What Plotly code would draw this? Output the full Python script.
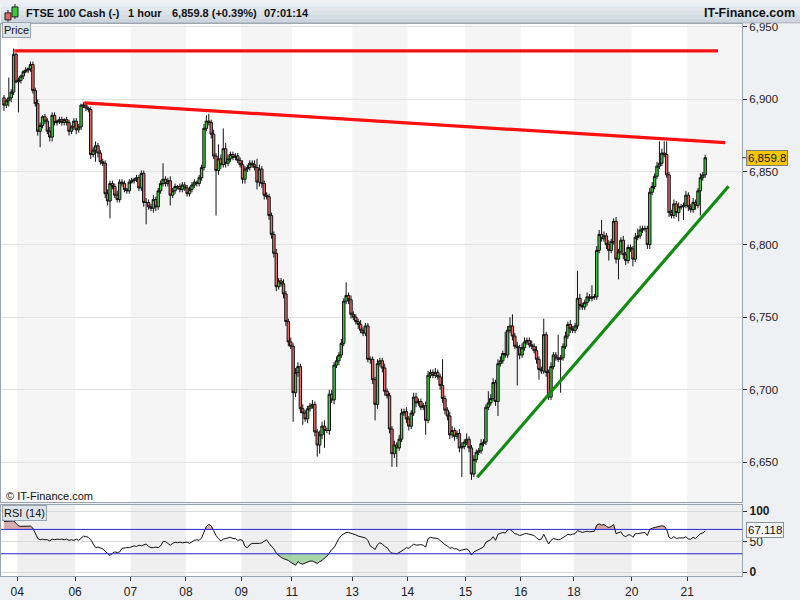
import plotly.graph_objects as go

# ---------------- data ----------------
first_open = 6901
closes = [
    6896, 6899, 6901, 6905, 6931, 6912, 6913, 6916, 6919, 6920,
    6921, 6924, 6906, 6897, 6878, 6882, 6888, 6885, 6878, 6874,
    6889, 6884, 6885, 6886, 6884, 6886, 6884, 6878, 6881, 6885,
    6879, 6881, 6896, 6896, 6894, 6893, 6862, 6865, 6868, 6863,
    6857, 6856, 6835, 6830, 6842, 6840, 6834, 6831, 6843, 6842,
    6838, 6837, 6843, 6844, 6845, 6846, 6839, 6849, 6829, 6829,
    6826, 6825, 6831, 6826, 6837, 6842, 6845, 6842, 6844, 6834,
    6837, 6840, 6840, 6838, 6841, 6839, 6835, 6838, 6841, 6843,
    6842, 6846, 6853, 6880, 6885, 6884, 6876, 6861, 6851, 6859,
    6855, 6866, 6856, 6859, 6862, 6860, 6861, 6858, 6855, 6845,
    6852, 6853, 6856, 6855, 6853, 6843, 6852, 6842, 6834, 6833,
    6820, 6807, 6794, 6771, 6775, 6773, 6766, 6747, 6733, 6730,
    6698, 6712, 6716, 6687, 6684, 6680, 6687, 6689, 6690, 6671,
    6662, 6669, 6675, 6672, 6672, 6697, 6693, 6717, 6720, 6724,
    6732, 6761, 6765, 6762, 6752, 6750, 6747, 6745, 6741, 6739,
    6744, 6721, 6721, 6707, 6690, 6718, 6720, 6715, 6699, 6696,
    6673, 6656, 6662, 6660, 6666, 6684, 6685, 6680, 6675, 6684,
    6695, 6691, 6692, 6688, 6689, 6679, 6710, 6712, 6710, 6712,
    6709, 6703, 6694, 6686, 6682, 6669, 6672, 6668, 6670, 6660,
    6661, 6664, 6666, 6660, 6642, 6652, 6657, 6658, 6663, 6664,
    6688, 6691, 6694, 6705, 6692, 6718, 6720, 6725, 6724, 6741,
    6744, 6737, 6730, 6729, 6724, 6729, 6733, 6734, 6731, 6730,
    6727, 6721, 6714, 6713, 6738, 6712, 6695, 6716, 6724, 6722,
    6721, 6722, 6730, 6737, 6745, 6742, 6741, 6744, 6763, 6758,
    6757, 6760, 6764, 6763, 6764, 6764, 6796, 6807, 6804, 6806,
    6800, 6796, 6802, 6816, 6790, 6795, 6803, 6793, 6789, 6798,
    6797, 6790, 6805, 6806, 6810, 6811, 6811, 6800, 6836, 6840,
    6847, 6854, 6856, 6863, 6862, 6848, 6822, 6820, 6828, 6822,
    6826, 6826, 6827, 6834, 6826, 6824, 6829, 6827, 6837, 6846,
    6848, 6859.8,
]
up_wick = [
    2, 1, 14, 2, 4, 1, 2, 1, 1, 2,
    1, 2, 2, 2, 3, 2, 1, 2, 2, 3,
    2, 2, 1, 2, 2, 1, 2, 2, 1, 2,
    2, 2, 1, 2, 2, 1, 2, 2, 3, 2,
    2, 2, 2, 3, 2, 2, 2, 3, 2, 2,
    2, 1, 2, 2, 1, 2, 2, 2, 2, 3,
    2, 2, 3, 2, 2, 2, 11, 2, 2, 3,
    2, 2, 1, 2, 2, 2, 2, 2, 2, 2,
    1, 2, 2, 3, 4, 5, 2, 3, 2, 10,
    3, 14, 4, 3, 2, 2, 2, 2, 2, 3,
    2, 2, 2, 2, 3, 6, 3, 2, 2, 2,
    2, 2, 2, 3, 2, 2, 3, 2, 2, 3,
    2, 3, 3, 2, 3, 2, 2, 2, 3, 2,
    2, 3, 3, 4, 2, 3, 3, 2, 3, 2,
    3, 2, 9, 2, 3, 2, 2, 2, 3, 2,
    2, 2, 2, 2, 2, 3, 2, 2, 3, 2,
    2, 2, 3, 2, 3, 3, 2, 3, 2, 2,
    3, 3, 2, 2, 2, 3, 3, 2, 2, 3,
    2, 2, 18, 2, 2, 3, 3, 2, 2, 3,
    3, 2, 4, 2, 2, 3, 2, 2, 3, 2,
    2, 8, 3, 3, 2, 3, 3, 2, 15, 3,
    6, 8, 2, 3, 2, 3, 3, 2, 2, 3,
    2, 3, 2, 2, 11, 2, 2, 3, 2, 2,
    16, 2, 2, 3, 2, 3, 2, 2, 19, 3,
    2, 2, 3, 2, 8, 2, 3, 3, 10, 3,
    2, 3, 2, 2, 3, 2, 2, 3, 2, 2,
    2, 2, 3, 5, 3, 2, 2, 2, 3, 3,
    2, 3, 15, 3, 8, 9, 2, 2, 3, 2,
    3, 2, 2, 3, 2, 2, 3, 2, 2, 3,
    2, 2,
]
down_wick = [
    4, 2, 4, 3, 2, 1, 21, 2, 2, 1,
    2, 2, 2, 2, 3, 11, 2, 2, 2, 3,
    3, 2, 2, 2, 2, 2, 2, 3, 2, 2,
    3, 2, 2, 2, 2, 2, 3, 2, 8, 3,
    2, 2, 3, 3, 12, 2, 2, 2, 2, 2,
    2, 2, 2, 1, 2, 2, 2, 2, 3, 15,
    2, 2, 3, 3, 2, 2, 2, 2, 2, 7,
    2, 2, 2, 2, 2, 2, 2, 2, 2, 2,
    2, 2, 2, 2, 2, 2, 3, 2, 31, 3,
    3, 2, 3, 2, 2, 2, 2, 2, 2, 3,
    3, 2, 2, 2, 2, 5, 3, 3, 3, 2,
    3, 3, 3, 3, 2, 2, 3, 3, 3, 2,
    20, 3, 3, 3, 8, 2, 3, 2, 2, 3,
    8, 6, 3, 12, 2, 3, 2, 3, 2, 3,
    2, 2, 2, 3, 3, 2, 2, 3, 2, 2,
    2, 2, 3, 3, 11, 3, 2, 3, 3, 2,
    3, 9, 3, 13, 2, 2, 2, 3, 3, 2,
    2, 3, 2, 2, 2, 10, 2, 2, 2, 2,
    2, 3, 3, 3, 3, 3, 2, 3, 2, 3,
    20, 2, 2, 3, 4, 2, 2, 2, 2, 2,
    2, 2, 2, 2, 3, 10, 2, 2, 2, 2,
    2, 3, 2, 26, 3, 2, 2, 2, 2, 2,
    2, 3, 7, 2, 2, 3, 2, 2, 2, 2,
    2, 23, 2, 2, 2, 3, 2, 2, 2, 3,
    2, 2, 2, 2, 2, 2, 2, 2, 2, 2,
    3, 7, 2, 2, 3, 14, 2, 3, 3, 2,
    2, 5, 2, 2, 2, 2, 2, 3, 3, 2,
    2, 2, 2, 2, 2, 2, 3, 2, 2, 3,
    6, 2, 9, 2, 3, 2, 2, 3, 2, 17,
    2, 2,
]
rsi = [
    83, 83, 83, 83, 84, 80, 76, 75, 75, 75.5,
    75, 75.5, 72, 62, 55, 53, 54, 53, 53, 51,
    54, 53, 54, 53.5, 54, 53, 54, 52, 53, 52,
    54, 52, 55, 59, 58, 57, 53, 47, 40, 41,
    39, 38, 34, 31, 27, 31, 33, 32, 33, 39,
    40, 40, 40, 42, 43, 42, 44, 43, 44, 46,
    42, 40, 40, 41, 40, 43, 50, 50, 47, 44,
    47, 49, 48, 49, 48, 49, 49, 47, 50, 52,
    53, 52, 56, 66, 75, 78, 76, 68, 60, 55,
    51, 54, 55, 56, 57, 55, 55, 52, 53, 52,
    42, 40, 45, 47, 47, 46, 47, 48, 50, 53,
    47, 43, 38, 31, 27, 24, 22, 21, 19, 16,
    13, 11, 17, 14, 13, 15, 16, 18, 18, 16,
    14, 17, 19, 23, 26, 31, 37, 40, 48, 55,
    60, 63, 65, 65, 64, 62, 61, 59, 58, 56,
    56, 52, 43, 40, 37, 45, 48, 46, 42, 40,
    34, 31, 31, 30, 32, 34, 37, 40, 39, 42,
    46, 44, 45, 45, 44, 41, 55, 57, 56, 56,
    55, 52, 48, 45, 43, 39, 40, 38, 38, 35,
    36, 37, 38, 35, 28, 33, 35, 36, 39, 41,
    49, 51, 53, 58, 52, 62, 63, 65, 64, 69,
    70, 67, 63, 62, 60, 61, 63, 63, 62, 61,
    60, 56, 53, 54, 62, 54, 46, 52, 55, 54,
    53, 54, 56, 59, 62, 61, 62, 63, 68, 66,
    65, 66, 67, 66, 67, 67, 77, 79, 77, 78,
    75, 73, 75, 78, 63, 64, 66, 60, 58, 61,
    61, 57, 63, 63, 64, 64, 65, 60, 70, 72,
    73, 74, 74, 76, 75, 70, 57, 55, 58, 55,
    56, 56, 56, 58, 54, 54, 57, 55, 59, 63,
    64, 67.118,
]
day_labels = ["04", "06", "07", "08", "09", "11", "13", "14", "15", "16", "18", "20", "21"]
day_first_bar = [6, 30, 53, 76, 99, 120, 145, 168, 192, 215, 237, 261, 284]
price_ticks = [6650, 6700, 6750, 6800, 6850, 6900, 6950]
rsi_ticks = [0, 50, 100]
rsi_ticktext = ["<b>0</b>", "50", "<b>100</b>"]
rsi_levels = [70, 30]
last_price = 6859.8
last_rsi = 67.118
# trend lines drawn on the chart (bar index, price)
resistance_x = [4.3, 296.3]
resistance_y = [6933.4, 6933.4]
falling_x = [33.3, 299.3]
falling_y = [6897.5, 6870.2]
support_x = [196.4, 300.7]
support_y = [6639.8, 6840.2]

# ---------------- build ----------------
n = len(closes)
assert len(up_wick) == n and len(down_wick) == n and len(rsi) == n, (n, len(up_wick), len(down_wick), len(rsi))
idx = list(range(n))
opens = [first_open] + closes[:-1]
highs = [max(o, c) + u for o, c, u in zip(opens, closes, up_wick)]
lows = [min(o, c) - d for o, c, d in zip(opens, closes, down_wick)]

W, H = 800, 600
def px(x):
    return x / W
def py(y):
    return 1 - y / H

FONT = "Liberation Sans, Arial, sans-serif"
XR = [-1.24, 306.3]
PLOT_R = 742
CLEAR = "rgba(0,0,0,0)"

fig = go.Figure()

# RSI fills
upper = [max(v, 70) for v in rsi]
lower = [min(v, 30) for v in rsi]
fig.add_trace(go.Scatter(x=idx, y=[70] * n, mode="lines", line=dict(width=0, color=CLEAR), xaxis="x2", yaxis="y2", hoverinfo="skip", showlegend=False))
fig.add_trace(go.Scatter(x=idx, y=upper, mode="lines", line=dict(width=0, color=CLEAR), fill="tonexty", fillcolor="rgba(205,145,145,0.75)", xaxis="x2", yaxis="y2", hoverinfo="skip", showlegend=False))
fig.add_trace(go.Scatter(x=idx, y=[30] * n, mode="lines", line=dict(width=0, color=CLEAR), xaxis="x2", yaxis="y2", hoverinfo="skip", showlegend=False))
fig.add_trace(go.Scatter(x=idx, y=lower, mode="lines", line=dict(width=0, color=CLEAR), fill="tonexty", fillcolor="rgba(140,200,140,0.75)", xaxis="x2", yaxis="y2", hoverinfo="skip", showlegend=False))
fig.add_trace(go.Scatter(x=idx, y=rsi, mode="lines", line=dict(color="#111111", width=1), xaxis="x2", yaxis="y2", hoverinfo="skip", showlegend=False))

# candles
fig.add_trace(go.Candlestick(
    x=idx, open=opens, high=highs, low=lows, close=closes,
    increasing=dict(fillcolor="#3cd03c", line=dict(color="#111111", width=1)),
    decreasing=dict(fillcolor="#e86a6a", line=dict(color="#111111", width=1)),
    whiskerwidth=0, xaxis="x", yaxis="y", hoverinfo="skip", showlegend=False,
))

# trend lines
fig.add_trace(go.Scatter(x=resistance_x, y=resistance_y, mode="lines", line=dict(color="#ff1010", width=3.2), xaxis="x", yaxis="y", hoverinfo="skip", showlegend=False))
fig.add_trace(go.Scatter(x=falling_x, y=falling_y, mode="lines", line=dict(color="#ff1010", width=3.2), xaxis="x", yaxis="y", hoverinfo="skip", showlegend=False))
fig.add_trace(go.Scatter(x=support_x, y=support_y, mode="lines", line=dict(color="#118a11", width=3.2), xaxis="x", yaxis="y", hoverinfo="skip", showlegend=False))

shapes = []
# day stripes
bounds = [b - 0.5 for b in day_first_bar] + [XR[1]]
for k in range(len(day_first_bar)):
    if k % 2 == 0:
        for yref, col in (("y domain", "#f5f5f5"), ("y2 domain", "#efefef")):
            shapes.append(dict(type="rect", xref="x", yref=yref, x0=bounds[k], x1=bounds[k + 1], y0=0, y1=1,
                               fillcolor=col, line=dict(width=0), layer="below"))
# RSI level lines
for lv in rsi_levels:
    shapes.append(dict(type="line", xref="x2 domain", yref="y2", x0=0, x1=1, y0=lv, y1=lv,
                       line=dict(color="#2626d8", width=1)))
# header gradient bands
bands = ["#e9eef2", "#e2e8ed", "#dbe2e8", "#d4dce3", "#cdd6de"]
for k, col in enumerate(bands):
    shapes.append(dict(type="rect", xref="paper", yref="paper", x0=0, x1=1, y0=py(4 * k + 4), y1=py(4 * k),
                       fillcolor=col, line=dict(width=0), layer="below"))
shapes.append(dict(type="line", xref="paper", yref="paper", x0=0, x1=1, y0=py(20), y1=py(20),
                   line=dict(color="#a9b3bb", width=1)))
# header icon
shapes += [
    dict(type="line", xref="paper", yref="paper", x0=px(7), x1=px(7), y0=py(19), y1=py(7), line=dict(color="#222", width=1)),
    dict(type="rect", xref="paper", yref="paper", x0=px(4), x1=px(10), y0=py(17), y1=py(10), fillcolor="#e06868", line=dict(color="#222", width=1)),
    dict(type="line", xref="paper", yref="paper", x0=px(14), x1=px(14), y0=py(16), y1=py(1), line=dict(color="#222", width=1)),
    dict(type="rect", xref="paper", yref="paper", x0=px(11), x1=px(17), y0=py(14), y1=py(4), fillcolor="#3cc83c", line=dict(color="#222", width=1)),
]
# last price tick
shapes.append(dict(type="line", xref="paper", yref="y", x0=px(742), x1=px(747), y0=last_price, y1=last_price,
                   line=dict(color="#333", width=1)))

ann = []
def txt(x, y, s, size=11, anchor="left", bold=False, color="#111111", **kw):
    ann.append(dict(x=px(x), y=py(y), xref="paper", yref="paper", text=("<b>%s</b>" % s) if bold else s,
                    showarrow=False, xanchor=anchor, yanchor="middle",
                    font=dict(family=FONT, size=size, color=color), **kw))

txt(23, 10, "FTSE 100 Cash (-)", size=11, bold=True)
txt(125, 10, "1 hour", size=11, bold=True)
txt(169, 10, "6,859.8 (+0.39%)", size=11, bold=True)
txt(261, 10, "07:01:14", size=11, bold=True)
txt(797, 10, "IT-Finance.com", size=12.5, anchor="right", bold=True)
txt(1, 27.5, "Price", size=11, bgcolor="#dde4ea", bordercolor="#9aa5ae", borderwidth=1, borderpad=1)
txt(1, 515.5, "RSI (14)", size=11, bgcolor="#dde4ea", bordercolor="#9aa5ae", borderwidth=1, borderpad=1)
txt(3, 497.5, "© IT-Finance.com", size=11)
ann.append(dict(x=px(746), y=last_price, xref="paper", yref="y", text=f"{last_price:,.1f}", showarrow=False,
                xanchor="left", yanchor="middle", font=dict(family=FONT, size=11.5, color="#111"),
                bgcolor="#f6c600", bordercolor="#7d7d7d", borderwidth=1, borderpad=1))
ann.append(dict(x=px(746), y=last_rsi, xref="paper", yref="y2", text=f"{last_rsi:.3f}", showarrow=False,
                xanchor="left", yanchor="middle", yshift=1.5, font=dict(family=FONT, size=11.5, color="#111"),
                bgcolor="#f6f6f6", bordercolor="#8a949c", borderwidth=1, borderpad=1))

axis_line = "#9aa4ac"
fig.update_layout(
    width=W, height=H, margin=dict(l=0, r=0, t=0, b=0), autosize=False,
    paper_bgcolor="#eef0f3", plot_bgcolor="#ffffff",
    hovermode=False, showlegend=False, boxgap=0.0, boxgroupgap=0.0,
    font=dict(family=FONT, size=11, color="#222"),
    xaxis=dict(domain=[0, px(PLOT_R)], range=XR, anchor="y", showticklabels=False, showgrid=False,
               zeroline=False, showline=True, mirror=True, linecolor=axis_line, rangeslider=dict(visible=False),
               fixedrange=True),
    yaxis=dict(domain=[py(504), py(21)], range=[6622.8, 6952.0], side="right", anchor="x",
               tickvals=price_ticks, tickformat=",d", ticks="outside", ticklen=4, tickcolor="#333",
               gridcolor="#e2e2e2", zeroline=False, showline=True, mirror=True, linecolor=axis_line,
               tickfont=dict(family=FONT, size=11.5, color="#222")),
    xaxis2=dict(domain=[0, px(PLOT_R)], range=XR, anchor="y2", matches="x",
                tickvals=[b - 0.5 for b in day_first_bar], ticktext=day_labels, ticks="outside", ticklen=4,
                tickcolor="#333", showgrid=False, zeroline=False, showline=True, mirror=True, linecolor=axis_line,
                tickfont=dict(family=FONT, size=12, color="#222")),
    yaxis2=dict(domain=[py(579), py(507)], range=[-6.9, 110.2], side="right", anchor="x2",
                tickvals=rsi_ticks, ticktext=rsi_ticktext, ticks="outside", ticklen=4, tickcolor="#333",
                gridcolor="#d9d9d9", zeroline=False, showline=True, mirror=True, linecolor=axis_line,
                tickfont=dict(family=FONT, size=12, color="#222")),
    shapes=shapes, annotations=ann,
)

fig.write_html(
    "out.html",
    config={"displayModeBar": False, "staticPlot": True},
    post_script="document.body.style.margin='0px';document.body.style.overflow='hidden';"
                "document.documentElement.style.overflow='hidden';",
)
